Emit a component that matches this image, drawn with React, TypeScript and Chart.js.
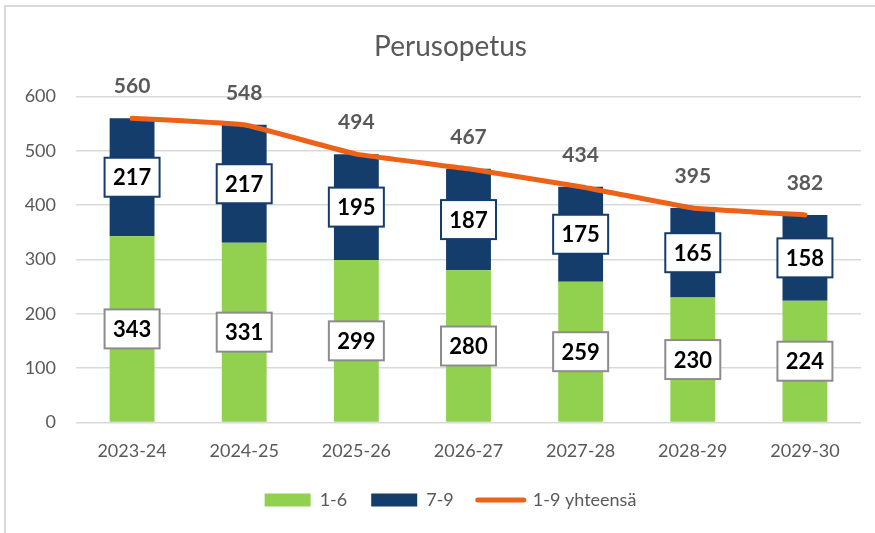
import React, { useEffect, useRef } from 'react';
import { Chart, registerables } from 'chart.js';

Chart.register(...registerables);

const title = 'Perusopetus';
const categories = ['2023-24', '2024-25', '2025-26', '2026-27', '2027-28', '2028-29', '2029-30'];
const grades16 = [343, 331, 299, 280, 259, 230, 224];
const grades79 = [217, 217, 195, 187, 175, 165, 158];
const totals = [560, 548, 494, 467, 434, 395, 382];
const seriesNames = ['1-6', '7-9', '1-9 yhteensä'];
const yMin = 0;
const yMax = 600;
const yStep = 100;

const GREEN = '#92D050';
const NAVY = '#153D6B';
const ORANGE = '#EC6219';
const FONT = 'Lato, "Open Sans", sans-serif';

const framePlugin = {
  id: 'frame',
  beforeDraw(chart: any) {
    const ctx = chart.ctx;
    ctx.save();
    ctx.fillStyle = '#ffffff';
    ctx.fillRect(0, 0, chart.width, chart.height);
    ctx.strokeStyle = '#D9D9D9';
    ctx.lineWidth = 2;
    ctx.beginPath();
    ctx.moveTo(5, chart.height);
    ctx.lineTo(5, 6);
    ctx.lineTo(chart.width, 6);
    ctx.stroke();
    ctx.restore();
  },
};

// shift title and legend boxes so they centre like the reference
const shiftPlugin = {
  id: 'shiftBlocks',
  afterLayout(chart: any) {
    const shift = 40;
    if (chart.titleBlock) {
      chart.titleBlock.left += shift;
    }
    if (chart.legend) {
      chart.legend.left += shift;
    }
  },
};

const labelPlugin = {
  id: 'valueLabels',
  afterDatasetsDraw(chart: any) {
    const ctx = chart.ctx;
    ctx.save();
    ctx.textAlign = 'center';
    ctx.textBaseline = 'middle';
    const boxW = 55;
    const boxH = 39;
    [0, 1].forEach((di) => {
      const meta = chart.getDatasetMeta(di);
      const data = chart.data.datasets[di].data as number[];
      meta.data.forEach((el: any, i: number) => {
        const cx = el.x;
        const cy = (el.y + el.base) / 2;
        ctx.fillStyle = '#ffffff';
        ctx.fillRect(cx - boxW / 2, cy - boxH / 2, boxW, boxH);
        ctx.lineWidth = 2;
        ctx.strokeStyle = di === 0 ? '#8C8C8C' : NAVY;
        ctx.strokeRect(cx - boxW / 2, cy - boxH / 2, boxW, boxH);
        ctx.fillStyle = '#000000';
        ctx.font = `bold 22px ${FONT}`;
        ctx.fillText(String(data[i]), cx, cy + 1);
      });
    });
    const lineMeta = chart.getDatasetMeta(2);
    const lineData = chart.data.datasets[2].data as number[];
    lineMeta.data.forEach((pt: any, i: number) => {
      ctx.fillStyle = '#595959';
      ctx.font = `bold 21px ${FONT}`;
      ctx.fillText(String(lineData[i]), pt.x, pt.y - 32);
    });
    ctx.restore();
  },
};

export default function App() {
  const ref = useRef<HTMLCanvasElement | null>(null);
  useEffect(() => {
    document.body.style.margin = '0';
    const canvas = ref.current;
    if (!canvas) return;
    const chart = new Chart(canvas, {
      type: 'bar',
      data: {
        labels: categories,
        datasets: [
          {
            type: 'bar',
            label: seriesNames[0],
            data: grades16,
            backgroundColor: GREEN,
            stack: 'grades',
            order: 1,
            categoryPercentage: 1,
            barPercentage: 0.4,
          },
          {
            type: 'bar',
            label: seriesNames[1],
            data: grades79,
            backgroundColor: NAVY,
            stack: 'grades',
            order: 1,
            categoryPercentage: 1,
            barPercentage: 0.4,
          },
          {
            type: 'line',
            label: seriesNames[2],
            data: totals,
            borderColor: ORANGE,
            backgroundColor: ORANGE,
            borderWidth: 5,
            borderCapStyle: 'round',
            borderJoinStyle: 'round',
            pointRadius: 0,
            tension: 0.08,
            stack: 'total',
            order: 0,
          } as any,
        ],
      },
      options: {
        animation: false,
        responsive: true,
        maintainAspectRatio: false,
        layout: { padding: { left: 0, right: 14, top: 0, bottom: 14 } },
        plugins: {
          title: {
            display: true,
            text: title,
            color: '#595959',
            font: { family: FONT, size: 28, weight: 'normal' },
            padding: { top: 30, bottom: 33 },
          },
          legend: {
            position: 'bottom',
            labels: {
              usePointStyle: true,
              pointStyleWidth: 46,
              boxHeight: 13,
              padding: 24,
              color: '#595959',
              font: { family: FONT, size: 18 },
              generateLabels: () => [
                { text: seriesNames[0], fillStyle: GREEN, strokeStyle: GREEN, lineWidth: 0, pointStyle: 'rect', datasetIndex: 0, fontColor: '#595959' },
                { text: seriesNames[1], fillStyle: NAVY, strokeStyle: NAVY, lineWidth: 0, pointStyle: 'rect', datasetIndex: 1, fontColor: '#595959' },
                { text: seriesNames[2], fillStyle: ORANGE, strokeStyle: ORANGE, lineWidth: 5, lineCap: 'round', pointStyle: 'line', datasetIndex: 2, fontColor: '#595959' },
              ] as any,
            },
          },
          tooltip: { enabled: false },
        },
        scales: {
          x: {
            stacked: true,
            grid: { display: false, drawTicks: false, tickLength: 0 },
            border: { display: false },
            ticks: { color: '#595959', font: { family: FONT, size: 18 }, padding: 18, maxRotation: 0 },
            afterFit: (scale: any) => {
              scale.height = 44.6;
            },
          },
          y: {
            stacked: true,
            min: yMin,
            max: yMax,
            grid: { color: '#D9D9D9', lineWidth: 1.5, drawTicks: false, tickLength: 0 },
            border: { display: false },
            ticks: { stepSize: yStep, color: '#595959', font: { family: FONT, size: 18 }, padding: 20 },
            afterFit: (scale: any) => {
              scale.width = 76;
            },
          },
        },
      },
      plugins: [framePlugin, shiftPlugin, labelPlugin],
    });
    return () => chart.destroy();
  }, []);
  return (
    <div style={{ position: 'absolute', left: 0, top: 0, width: 875, height: 533 }}>
      <canvas ref={ref} />
    </div>
  );
}
